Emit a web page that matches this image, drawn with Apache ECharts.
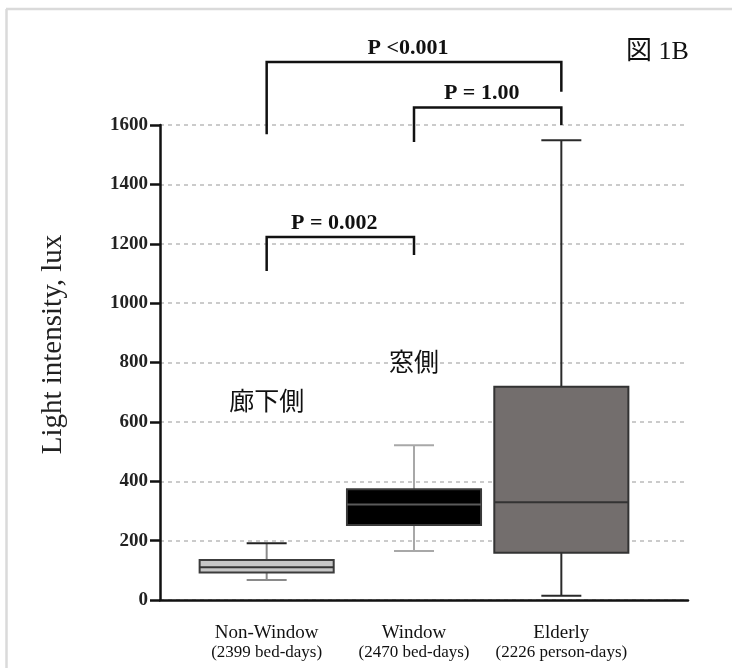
<!DOCTYPE html>
<html>
<head>
<meta charset="utf-8">
<script src="https://cdn.jsdelivr.net/npm/echarts@6/dist/echarts.min.js"></script>
<style>
  html, body { margin: 0; padding: 0; background: #fff; }
  #main { width: 732px; height: 668px; }
</style>
</head>
<body>
<div id="main"></div>
<script>
// カテゴリ
const categories = ['Non-Window', 'Window', 'Elderly']
const sampleSizes = ['(2399 bed-days)', '(2470 bed-days)', '(2226 person-days)']

// 箱ひげ図の値 [min, Q1, median, Q3, max]
const nonWindowBox = [67, 93, 110, 135, 191]
const windowBox = [165, 253, 322, 373, 521]
const elderlyBox = [14, 159, 329, 718, 1549]

// y軸
const yMin = 0
const yMax = 1600
const yStep = 200

// 有意差のブラケット
const pairFrom = [0, 1, 0]
const pairTo = [1, 2, 2]
const pairTop = [1223, 1659, 1812]
const pairFromEnd = [1108, 1543, 1569]
const pairToEnd = [1162, 1600, 1712]
const pairText = ['P = 0.002', 'P = 1.00', 'P <0.001']

// グループ名
const groupNames = ['廊下側', '窓側']
const groupNameValue = [673, 802]

// スタイル
const boxFill = ['#c6c6c6', '#000000', '#736e6d']
const boxBorder = ['#3c3c3c', '#3a3a3a', '#333333']
const medianColor = ['#333333', '#5a5a5a', '#333333']
const whiskerColor = ['#8a8a8a', '#a8a8a8', '#2a2a2a']
const topCapColor = ['#222222', '#a8a8a8', '#2a2a2a']

const serif = 'Liberation Serif'
const cjk = 'Noto Sans CJK JP'

const boxData = [nonWindowBox, windowBox, elderlyBox].map((v, i) => [i, ...v])
const bracketData = pairFrom.map((f, i) => [f, pairTo[i], pairTop[i], pairFromEnd[i], pairToEnd[i]])
const nameData = groupNames.map((n, i) => [i, groupNameValue[i]])

function renderBox(params, api) {
    const i = params.dataIndex
    const x = api.coord([api.value(0), 0])[0]
    const w = api.size([1, 0])[0] * 0.91
    const cap = 40
    const y = [1, 2, 3, 4, 5].map(k => api.coord([api.value(0), api.value(k)])[1])
    const line = (x1, y1, x2, y2, color, width) => ({
        type: 'line',
        shape: { x1, y1, x2, y2 },
        style: { stroke: color, lineWidth: width }
    })
    return {
        type: 'group',
        children: [
            line(x, y[0], x, y[1], whiskerColor[i], 2),
            line(x, y[3], x, y[4], whiskerColor[i], 2),
            line(x - cap / 2, y[0], x + cap / 2, y[0], whiskerColor[i], 2),
            line(x - cap / 2, y[4], x + cap / 2, y[4], topCapColor[i], 2),
            {
                type: 'rect',
                shape: { x: x - w / 2, y: y[3], width: w, height: y[1] - y[3] },
                style: { fill: boxFill[i], stroke: boxBorder[i], lineWidth: 2 }
            },
            line(x - w / 2, y[2], x + w / 2, y[2], medianColor[i], 2)
        ]
    }
}

function renderBracket(params, api) {
    const xl = api.coord([api.value(0), 0])[0]
    const xr = api.coord([api.value(1), 0])[0]
    const yt = api.coord([0, api.value(2)])[1]
    const yl = api.coord([0, api.value(3)])[1]
    const yr = api.coord([0, api.value(4)])[1]
    return {
        type: 'group',
        children: [
            {
                type: 'polyline',
                shape: { points: [[xl, yl], [xl, yt], [xr, yt], [xr, yr]] },
                style: { stroke: '#111', lineWidth: 2.5, fill: null }
            },
            {
                type: 'text',
                x: (xl + xr) / 2 - 6,
                y: yt - 3,
                style: {
                    text: pairText[params.dataIndex],
                    fontFamily: serif, fontWeight: 'bold', fontSize: 22,
                    fill: '#111', align: 'center', verticalAlign: 'bottom'
                }
            }
        ]
    }
}

function renderName(params, api) {
    const p = api.coord([api.value(0), api.value(1)])
    return {
        type: 'text',
        x: p[0],
        y: p[1],
        style: {
            text: groupNames[params.dataIndex],
            fontFamily: cjk, fontSize: 25, fill: '#111',
            align: 'center', verticalAlign: 'middle'
        }
    }
}

const chart = echarts.init(document.getElementById('main'))

const option = {
    animation: false,
    title: {
        text: '図 1B',
        left: 626,
        top: 39,
        padding: 0,
        textStyle: { fontFamily: serif + ', ' + cjk, fontSize: 26, fontWeight: 'normal', color: '#111' }
    },
    graphic: [
        { type: 'line', shape: { x1: 6.5, y1: 9, x2: 6.5, y2: 668 }, style: { stroke: '#dadada', lineWidth: 2.5 } },
        { type: 'line', shape: { x1: 6, y1: 9, x2: 732, y2: 9 }, style: { stroke: '#dadada', lineWidth: 2.5 } }
    ],
    grid: [
        { left: 160, right: 44, top: 125, bottom: 68 },
        { left: 193, right: 97, top: 125, bottom: 68 }
    ],
    xAxis: [
        {
            gridIndex: 0, type: 'value', min: 0, max: 1,
            axisLine: { show: true, lineStyle: { color: '#111', width: 2.5 } },
            axisTick: { show: false }, axisLabel: { show: false }, splitLine: { show: false }
        },
        {
            gridIndex: 1, type: 'category', data: categories,
            axisLine: { show: false }, axisTick: { show: false },
            axisLabel: {
                interval: 0,
                hideOverlap: false,
                margin: 23,
                formatter: (v, idx) => `{a|${v}}\n{b|${sampleSizes[idx]}}`,
                rich: {
                    a: { fontFamily: serif, fontSize: 19, lineHeight: 20, color: '#111' },
                    b: { fontFamily: serif, fontSize: 17, lineHeight: 20, color: '#111' }
                }
            }
        }
    ],
    yAxis: [
        {
            gridIndex: 0, type: 'value', min: yMin, max: yMax, interval: yStep,
            name: 'Light intensity, lux',
            nameLocation: 'middle',
            nameGap: 92,
            nameTextStyle: { fontFamily: serif, fontSize: 29, color: '#222', padding: [0, 0, 0, 36] },
            axisLine: { show: true, lineStyle: { color: '#111', width: 2.5 } },
            axisTick: { show: true, length: 10, lineStyle: { color: '#111', width: 2.5 } },
            axisLabel: {
                margin: 12, fontFamily: serif, fontWeight: 'bold', fontSize: 19, color: '#222',
                formatter: v => String(v)
            },
            splitLine: { show: true, lineStyle: { type: [4, 4], color: '#bbbbbb', width: 1.5 } }
        },
        { gridIndex: 1, type: 'value', min: yMin, max: yMax, show: false }
    ],
    series: [
        {
            type: 'custom', xAxisIndex: 1, yAxisIndex: 1,
            renderItem: renderBox,
            encode: { x: 0, y: [1, 2, 3, 4, 5] },
            data: boxData
        },
        {
            type: 'custom', xAxisIndex: 1, yAxisIndex: 1,
            renderItem: renderBracket,
            encode: { x: [0, 1], y: [2, 3, 4] },
            data: bracketData,
            clip: false
        },
        {
            type: 'custom', xAxisIndex: 1, yAxisIndex: 1,
            renderItem: renderName,
            encode: { x: 0, y: 1 },
            data: nameData
        }
    ]
}

chart.setOption(option)
</script>
</body>
</html>
